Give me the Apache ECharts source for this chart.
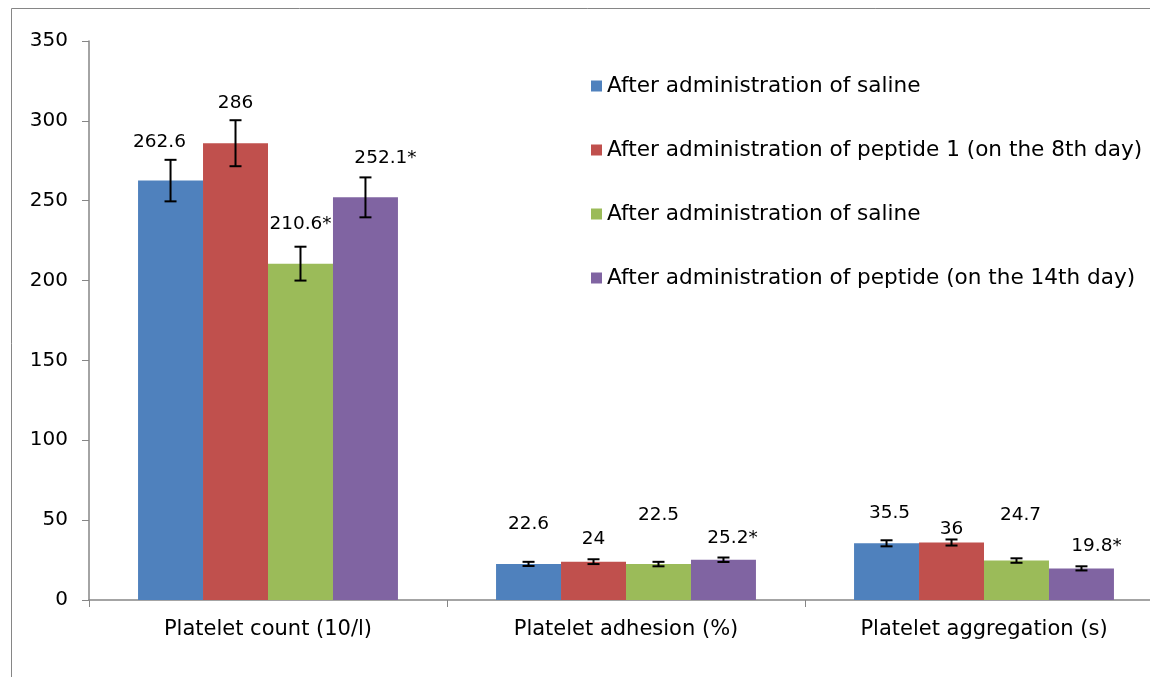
<!DOCTYPE html>
<html>
<head>
<meta charset="utf-8">
<script src="https://cdn.jsdelivr.net/npm/echarts@6/dist/echarts.min.js"></script>
<style>
html,body{margin:0;padding:0;background:#fff;overflow:hidden;width:1150px;height:677px;}
#chart{width:1163px;height:677px;}
</style>
</head>
<body>
<div id="chart"></div>
<script>
// ---- data ----
const categories = ['Platelet count (10/l)', 'Platelet adhesion (%)', 'Platelet aggregation (s)'];
const seriesNames = [
  'After administration of saline',
  'After administration of peptide 1 (on the 8th day)',
  'After administration of saline ',
  'After administration of peptide (on the 14th day)'
];
const salineDay8 = [262.6, 22.6, 35.5];
const peptideDay8 = [286, 24, 36];
const salineDay14 = [210.6, 22.5, 24.7];
const peptideDay14 = [252.1, 25.2, 19.8];
const errSalineDay8 = [13, 1.3, 1.9];
const errPeptideDay8 = [14.4, 1.5, 1.9];
const errSalineDay14 = [10.6, 1.4, 1.4];
const errPeptideDay14 = [12.5, 1.4, 1.3];
const starSalineDay8 = ['', '', ''];
const starPeptideDay8 = ['', '', ''];
const starSalineDay14 = ['*', '', ''];
const starPeptideDay14 = ['*', '*', '*'];
const yTicks = [0, 50, 100, 150, 200, 250, 300, 350];

// ---- styles ----
const colors = ['#4F81BD', '#C0504D', '#9BBB59', '#8064A2'];
const labelLift = [[38, 40, 30], [40, 22, 13], [39, 49, 45], [39, 22, 22]];
const labelShift = [[-11, 0, 3], [0, 0, 0], [0, 0, 4], [20, 9, 15]];
const FONT = 'DejaVu Sans';
const gapRatio = 0.274;

const values = [salineDay8, peptideDay8, salineDay14, peptideDay14];
const errs = [errSalineDay8, errPeptideDay8, errSalineDay14, errPeptideDay14];
const stars = [starSalineDay8, starPeptideDay8, starSalineDay14, starPeptideDay14];

const series = [];
values.forEach((vals, si) => {
  series.push({
    type: 'bar',
    name: seriesNames[si],
    barGap: '0%',
    barCategoryGap: (gapRatio * 100) + '%',
    itemStyle: { color: colors[si] },
    data: vals.map((v, ci) => ({
      value: v,
      label: {
        show: true,
        position: 'top',
        verticalAlign: 'middle',
        distance: labelLift[si][ci],
        offset: [labelShift[si][ci], 0],
        formatter: String(v) + stars[si][ci],
        color: '#000',
        fontFamily: FONT,
        fontSize: 18.5
      }
    }))
  });
});
values.forEach((vals, si) => {
  series.push({
    type: 'custom',
    name: 'err' + si,
    z: 5,
    silent: true,
    data: vals.map((v, ci) => [ci, v, errs[si][ci]]),
    renderItem: function (params, api) {
      const ci = api.value(0), v = api.value(1), e = api.value(2);
      const catW = api.size([1, 0])[0];
      const bw = catW * (1 - gapRatio) / 4;
      const c = api.coord([ci, v]);
      const x = c[0] - 2 * bw + (si + 0.5) * bw;
      const yt = api.coord([ci, v + e])[1];
      const yb = api.coord([ci, v - e])[1];
      const st = { stroke: '#000', lineWidth: 2 };
      const hw = 6;
      return {
        type: 'group',
        children: [
          { type: 'line', shape: { x1: x, y1: yt, x2: x, y2: yb }, style: st },
          { type: 'line', shape: { x1: x - hw, y1: yt, x2: x + hw, y2: yt }, style: st },
          { type: 'line', shape: { x1: x - hw, y1: yb, x2: x + hw, y2: yb }, style: st }
        ]
      };
    }
  });
});

const chart = echarts.init(document.getElementById('chart'), null, { renderer: 'canvas' });
chart.setOption({
  animation: false,
  backgroundColor: '#fff',
  textStyle: { fontFamily: FONT },
  graphic: [{
    type: 'polyline',
    shape: { points: [[11.5, 700], [11.5, 8.5], [1200, 8.5]] },
    style: { fill: null, stroke: '#868686', lineWidth: 1 },
    silent: true, z: -1
  }],
  legend: {
    data: seriesNames,
    orient: 'vertical',
    left: 586,
    top: 70,
    itemWidth: 11,
    itemHeight: 11,
    itemGap: 42,
    icon: 'rect',
    textStyle: { fontFamily: FONT, fontSize: 21.6, color: '#000' }
  },
  grid: { left: 89, right: 0, top: 41, bottom: 77, containLabel: false },
  xAxis: {
    type: 'category',
    data: categories,
    axisLine: { lineStyle: { color: '#868686', width: 1.5 } },
    axisTick: { show: true, length: 7, lineStyle: { color: '#868686' } },
    axisLabel: { color: '#000', fontFamily: FONT, fontSize: 21, margin: 19 },
    splitLine: { show: false }
  },
  yAxis: {
    type: 'value',
    min: yTicks[0],
    max: yTicks[yTicks.length - 1],
    interval: yTicks[1] - yTicks[0],
    axisLine: { show: true, lineStyle: { color: '#868686', width: 1.5 } },
    axisTick: { show: true, length: 7, lineStyle: { color: '#868686' } },
    axisLabel: { color: '#000', fontFamily: FONT, fontSize: 20, margin: 21 },
    splitLine: { show: false }
  },
  series: series
});
</script>
</body>
</html>
